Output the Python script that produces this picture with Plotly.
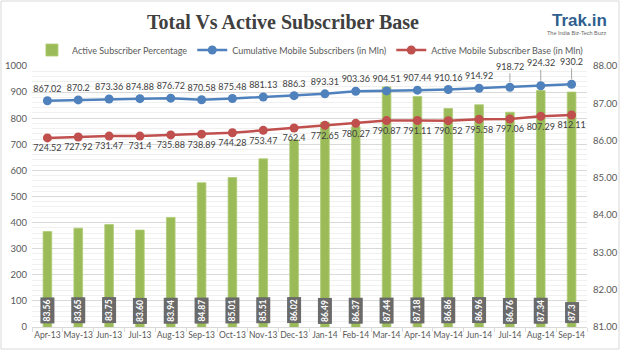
import plotly.graph_objects as go

months = ["Apr-13", "May-13", "Jun-13", "Jul-13", "Aug-13", "Sep-13", "Oct-13", "Nov-13", "Dec-13",
          "Jan-14", "Feb-14", "Mar-14", "Apr-14", "May-14", "Jun-14", "Jul-14", "Aug-14", "Sep-14"]
active_pct = [83.56, 83.65, 83.75, 83.60, 83.94, 84.87, 85.01, 85.51, 86.02,
              86.49, 86.37, 87.44, 87.18, 86.86, 86.96, 86.76, 87.34, 87.3]
active_pct_labels = ["83.56", "83.65", "83.75", "83.60", "83.94", "84.87", "85.01", "85.51", "86.02",
                     "86.49", "86.37", "87.44", "87.18", "86.86", "86.96", "86.76", "87.34", "87.3"]
cumulative = [867.02, 870.2, 873.36, 874.88, 876.72, 870.58, 875.48, 881.13, 886.3,
              893.31, 903.36, 904.51, 907.44, 910.16, 914.92, 918.72, 924.32, 930.2]
active_base = [724.52, 727.92, 731.47, 731.4, 735.88, 738.89, 744.28, 753.47, 762.4,
               772.65, 780.27, 790.87, 791.11, 790.52, 795.58, 797.06, 807.29, 812.11]
left_ticks = [0, 100, 200, 300, 400, 500, 600, 700, 800, 900, 1000]
right_ticks = [81, 82, 83, 84, 85, 86, 87, 88]

# labels with leader lines (last three points of cumulative series)
leader_idx = [15, 16, 17]
leader_offsets = [-21, -23, -23]

W, H = 620, 350
ml, mr, mt, mb = 32, 33, 66, 23
pw, ph = W - ml - mr, H - mt - mb

GREEN = "#9bbb59"
BLUE = "#4f81bd"
RED = "#c0504d"
TXT = "#404040"
AX = "#595959"
LBL_FONT = "Lato, 'Noto Sans', sans-serif"

fig = go.Figure()

fig.add_trace(go.Bar(
    x=months, y=active_pct, name="Active Subscriber Percentage",
    marker=dict(color=GREEN, line=dict(color="#aecb74", width=0.8)),
    width=0.28, yaxis="y"))

cum_text = [("" if i in leader_idx else f"{v:g}") for i, v in enumerate(cumulative)]
fig.add_trace(go.Scatter(
    x=months, y=cumulative, name="Cumulative Mobile Subscribers (in Mln)",
    mode="lines+markers+text", text=cum_text, textposition="top center",
    textfont=dict(size=9, color=TXT, family=LBL_FONT),
    line=dict(color=BLUE, width=2.5), marker=dict(size=9, color=BLUE),
    yaxis="y2", cliponaxis=False))

fig.add_trace(go.Scatter(
    x=months, y=active_base, name="Active Mobile Subscriber Base (in Mln)",
    mode="lines+markers+text", text=[f"{v:g}" for v in active_base], textposition="bottom center",
    textfont=dict(size=9, color=TXT, family=LBL_FONT),
    line=dict(color=RED, width=2.5), marker=dict(size=9, color=RED),
    yaxis="y2", cliponaxis=False))

annotations = []
for i, off in zip(leader_idx, leader_offsets):
    annotations.append(dict(
        x=months[i], y=cumulative[i], xref="x", yref="y2", text=f"{cumulative[i]:g}",
        showarrow=True, arrowhead=0, arrowwidth=1, arrowcolor="#a6a6a6",
        ax=0, ay=off, standoff=5, font=dict(size=9, color=TXT, family=LBL_FONT)))

for m, lab in zip(months, active_pct_labels):
    annotations.append(dict(
        x=m, y=right_ticks[0], xref="x", yref="y", text=f"<b>{lab}</b>",
        showarrow=False, textangle=-90, yanchor="bottom", xanchor="center", yshift=3,
        bgcolor="#6a6a6a", borderpad=1.5,
        font=dict(size=8.5, color="white", family=LBL_FONT)))

# logo (pixel positions converted to paper coordinates)
logo = [("<b>Trak.in</b>", 609, 20, 17, "#2f5f8f"),
        ("The India Biz-Tech Buzz", 609, 33, 5.5, "#666666")]
for txt, px, py, fs, col in logo:
    annotations.append(dict(
        x=(px - ml) / pw, y=(H - py - mb) / ph, xref="paper", yref="paper", text=txt,
        showarrow=False, font=dict(size=fs, color=col, family="Liberation Sans, Arial, sans-serif"),
        xanchor="right", yanchor="middle"))

fig.update_layout(
    width=W, height=H,
    margin=dict(l=ml, r=mr, t=mt, b=mb, autoexpand=False),
    paper_bgcolor="white", plot_bgcolor="white",
    title=dict(text="<b>Total Vs Active Subscriber Base</b>",
               font=dict(family="Liberation Serif, 'Times New Roman', serif", size=20, color=TXT),
               x=(283 - ml) / pw, xref="paper", xanchor="center",
               y=1 - 22 / H, yref="container", yanchor="middle"),
    showlegend=True,
    legend=dict(orientation="h", x=-0.0001, xanchor="left",
                y=1 + 16 / ph, yanchor="middle",
                font=dict(size=9, color=AX, family=LBL_FONT),
                itemwidth=30, tracegroupgap=0, bgcolor="rgba(0,0,0,0)"),
    xaxis=dict(type="category", range=[-0.5, len(months) - 0.5],
               showline=True, linecolor="#d9d9d9", linewidth=1,
               ticks="outside", tickson="boundaries", ticklen=4, tickcolor="#d9d9d9",
               tickangle=0, automargin=False,
               tickfont=dict(size=8.5, color=AX, family=LBL_FONT),
               showgrid=False, zeroline=False, fixedrange=True),
    yaxis=dict(side="right", range=[right_ticks[0], right_ticks[-1]],
               tickvals=right_ticks, tickformat=".2f", automargin=False,
               tickfont=dict(size=9.5, color=AX, family=LBL_FONT),
               showgrid=False, zeroline=False, showline=False, ticklabelstandoff=5),
    yaxis2=dict(side="left", overlaying="y", range=[left_ticks[0], left_ticks[-1]],
                tickvals=left_ticks, automargin=False,
                tickfont=dict(size=9.5, color=AX, family=LBL_FONT),
                showgrid=True, gridcolor="#d9d9d9", gridwidth=1,
                minor=dict(dtick=20, showgrid=True, gridcolor="#f0f0f0", gridwidth=1),
                zeroline=False, showline=False, ticklabelstandoff=4),
    annotations=annotations,
    shapes=[dict(type="rect", xref="paper", yref="paper",
                 x0=-(ml - 1) / pw, x1=1 + (mr - 1) / pw, y0=-(mb - 1) / ph, y1=1 + (mt - 1) / ph,
                 line=dict(color="#d9d9d9", width=1), layer="below")],
    bargap=0.7,
)

fig.write_html("out.html")
